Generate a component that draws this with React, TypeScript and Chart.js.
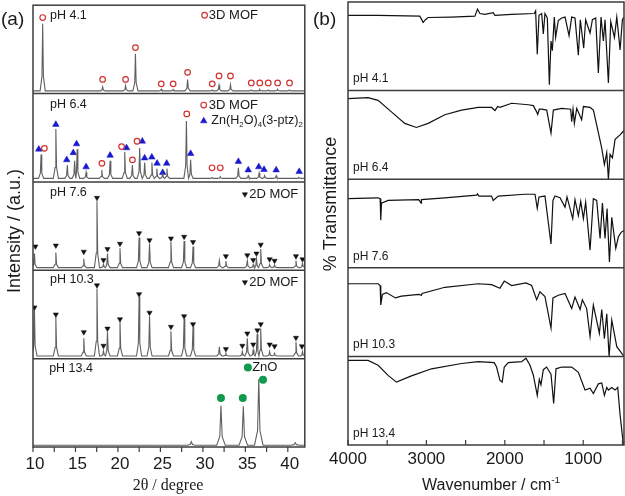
import React, { useEffect, useRef } from 'react';
import { Chart, registerables } from 'chart.js';
Chart.register(...registerables);

const SANS = '"Liberation Sans", Arial, Helvetica, sans-serif';
const SERIF = '"Liberation Serif", "Times New Roman", serif';

// ---------- data ----------
const SAMPLES = ['pH 4.1', 'pH 6.4', 'pH 7.6', 'pH 10.3', 'pH 13.4'];

// axis ticks
const XRD_TICK_LABELS = [10, 15, 20, 25, 30, 35, 40];
const XRD_TICK_MARKS = [10, 12.5, 15, 17.5, 20, 22.5, 25, 27.5, 30, 32.5, 35, 37.5, 40];
const IR_TICK_LABELS = [4000, 3000, 2000, 1000];
const IR_TICK_MARKS = [4000, 3500, 3000, 2500, 2000, 1500, 1000, 500];

// XRD peaks: [2θ (deg), height within its panel (0..1)]
const xrd41 = [[11.14, 0.79], [18.2, 0.076], [20.9, 0.09], [22.06, 0.45], [25.1, 0.05], [26.5, 0.045], [28.2, 0.16], [31.1, 0.04], [31.9, 0.095], [33.25, 0.1], [35.7, 0.04], [36.7, 0.045], [37.7, 0.04], [38.8, 0.05], [40.2, 0.04]];
const xrd64 = [[10.95, 0.31], [12.69, 0.6], [14.04, 0.19], [14.9, 0.24], [15.2, 0.37], [16.25, 0.11], [18.1, 0.135], [19.08, 0.24], [20.8, 0.34], [21.7, 0.19], [22.56, 0.385], [23.15, 0.22], [24.0, 0.22], [24.58, 0.15], [25.27, 0.09], [25.77, 0.15], [28.06, 0.69], [28.56, 0.25], [31.08, 0.05], [32.05, 0.06], [34.18, 0.16], [35.34, 0.07], [36.62, 0.1], [37.27, 0.07], [38.63, 0.07], [41.3, 0.05]];
const xrd76 = [[10.17, 0.19], [12.69, 0.2], [15.98, 0.13], [17.53, 0.78], [18.3, 0.07], [18.77, 0.19], [20.24, 0.25], [22.49, 0.37], [23.72, 0.3], [26.24, 0.32], [27.79, 0.33], [28.84, 0.27], [31.94, 0.11], [32.71, 0.105], [35.23, 0.11], [35.93, 0.065], [36.31, 0.13], [36.81, 0.24], [37.86, 0.065], [38.44, 0.06], [40.96, 0.11], [41.73, 0.08]];
const xrd103 = [[10.17, 0.55], [12.69, 0.47], [15.98, 0.23], [17.53, 0.79], [18.3, 0.09], [18.77, 0.3], [20.24, 0.43], [22.49, 0.7], [23.72, 0.48], [26.24, 0.31], [27.79, 0.45], [28.84, 0.36], [31.94, 0.135], [32.71, 0.06], [34.65, 0.08], [35.23, 0.23], [35.93, 0.1], [36.39, 0.28], [36.81, 0.34], [37.86, 0.08], [38.44, 0.06], [40.96, 0.19], [41.73, 0.08]];
const xrd134 = [[28.64, 0.06], [32.13, 0.47], [34.76, 0.46], [36.58, 0.77], [40.87, 0.05]];
const XRD_BASE = [0.03, 0.04, 0.03, 0.03, 0.02];

// phase markers [2θ, height in panel]
const mof3d41 = [[11.14, 0.86], [18.2, 0.16], [20.9, 0.16], [22.06, 0.52], [25.1, 0.11], [26.5, 0.11], [28.2, 0.24], [31.1, 0.11], [31.9, 0.2], [33.25, 0.2], [35.7, 0.12], [36.7, 0.12], [37.7, 0.12], [38.8, 0.12], [40.2, 0.12]];
const mof3d64 = [[11.34, 0.38], [18.11, 0.21], [20.43, 0.4], [21.71, 0.25], [22.25, 0.46], [28.1, 0.77], [31.08, 0.16], [32.05, 0.16]];
const znptz64 = [[10.68, 0.37], [12.69, 0.65], [13.97, 0.25], [14.74, 0.33], [15.13, 0.43], [16.25, 0.17], [19.08, 0.3], [21.01, 0.385], [22.87, 0.46], [23.14, 0.27], [23.99, 0.28], [24.61, 0.21], [25.27, 0.105], [25.74, 0.21], [28.56, 0.32], [34.18, 0.23], [35.34, 0.135], [36.58, 0.17], [37.2, 0.14], [38.63, 0.135], [41.34, 0.116]];
const mof2d76 = [[10.28, 0.27], [12.69, 0.28], [15.98, 0.21], [17.53, 0.82], [18.3, 0.115], [18.77, 0.24], [20.24, 0.3], [22.49, 0.42], [23.72, 0.34], [26.24, 0.36], [27.79, 0.38], [28.84, 0.32], [32.71, 0.16], [35.23, 0.17], [35.93, 0.115], [36.31, 0.19], [36.81, 0.29], [37.86, 0.125], [38.44, 0.108], [40.96, 0.16], [41.73, 0.125]];
const mof2d103 = [[10.17, 0.58], [12.69, 0.5], [15.98, 0.3], [17.53, 0.83], [18.3, 0.146], [18.77, 0.34], [20.24, 0.446], [22.49, 0.73], [23.72, 0.52], [26.24, 0.36], [27.79, 0.48], [28.84, 0.39], [32.71, 0.108], [34.65, 0.146], [35.23, 0.285], [35.93, 0.16], [36.42, 0.32], [36.81, 0.39], [37.86, 0.16], [38.44, 0.14], [40.96, 0.236], [41.66, 0.14]];
const zno134 = [[32.13, 0.555], [34.7, 0.555], [37.08, 0.76]];

// FTIR: [wavenumber (cm-1), transmittance within its panel (0..1)]
const ir41 = [[4000, 0.85], [3616, 0.85], [3084, 0.84], [3042, 0.77], [3012, 0.8], [2978, 0.825], [2680, 0.83], [2382, 0.84], [2348, 0.92], [2318, 0.87], [2254, 0.86], [2148, 0.88], [2126, 0.85], [1913, 0.86], [1624, 0.87], [1607, 0.9], [1586, 0.41], [1564, 0.85], [1530, 0.87], [1509, 0.64], [1488, 0.87], [1458, 0.82], [1432, 0.065], [1411, 0.56], [1394, 0.45], [1369, 0.83], [1352, 0.6], [1318, 0.79], [1275, 0.82], [1232, 0.83], [1181, 0.62], [1147, 0.83], [1105, 0.82], [1062, 0.4], [1037, 0.8], [994, 0.48], [969, 0.8], [913, 0.65], [883, 0.8], [841, 0.82], [807, 0.2], [773, 0.83], [743, 0.56], [722, 0.8], [679, 0.085], [649, 0.78], [602, 0.6], [572, 0.83], [530, 0.46], [500, 0.8], [480, 0.83]];
const ir64 = [[4000, 0.91], [3744, 0.92], [3616, 0.89], [3446, 0.76], [3276, 0.63], [3127, 0.584], [2978, 0.63], [2765, 0.727], [2552, 0.78], [2339, 0.81], [2169, 0.81], [2126, 0.775], [2092, 0.82], [2062, 0.81], [1913, 0.857], [1700, 0.84], [1637, 0.83], [1594, 0.76], [1581, 0.73], [1560, 0.79], [1530, 0.79], [1466, 0.78], [1411, 0.52], [1381, 0.78], [1275, 0.8], [1160, 0.79], [1147, 0.65], [1130, 0.79], [1113, 0.63], [1083, 0.8], [1020, 0.67], [998, 0.82], [913, 0.81], [870, 0.78], [828, 0.61], [764, 0.35], [730, 0.165], [700, 0.3], [679, 0.0], [658, 0.28], [628, 0.24], [594, 0.45], [530, 0.5], [480, 0.55]];
const ir76 = [[4000, 0.78], [3616, 0.79], [3590, 0.78], [3582, 0.536], [3573, 0.73], [3489, 0.76], [3097, 0.77], [3067, 0.73], [3063, 0.77], [2765, 0.79], [2360, 0.82], [2348, 0.835], [2330, 0.81], [2169, 0.81], [2148, 0.76], [2084, 0.81], [1743, 0.83], [1615, 0.83], [1586, 0.67], [1564, 0.8], [1488, 0.81], [1411, 0.27], [1386, 0.76], [1360, 0.81], [1296, 0.79], [1232, 0.685], [1207, 0.8], [1134, 0.555], [1105, 0.77], [1062, 0.59], [1032, 0.75], [998, 0.555], [969, 0.74], [913, 0.2], [871, 0.78], [828, 0.76], [785, 0.33], [755, 0.73], [722, 0.33], [696, 0.67], [666, 0.067], [636, 0.57], [585, 0.22], [551, 0.35], [517, 0.4], [480, 0.42]];
const ir103 = [[4000, 0.82], [3616, 0.82], [3590, 0.8], [3582, 0.58], [3561, 0.7], [3510, 0.72], [3395, 0.66], [3318, 0.68], [3097, 0.7], [3063, 0.69], [3055, 0.71], [2765, 0.78], [2339, 0.82], [2169, 0.81], [2062, 0.77], [2007, 0.85], [1913, 0.8], [1730, 0.83], [1658, 0.8], [1594, 0.64], [1552, 0.73], [1488, 0.675], [1411, 0.32], [1386, 0.66], [1318, 0.69], [1232, 0.71], [1147, 0.54], [1105, 0.67], [1040, 0.53], [1011, 0.64], [956, 0.54], [913, 0.225], [871, 0.58], [794, 0.26], [764, 0.53], [730, 0.2], [700, 0.48], [670, 0.0], [636, 0.41], [572, 0.11], [530, 0.06], [480, 0.0]];
const ir134 = [[4000, 0.955], [3744, 0.955], [3616, 0.9], [3489, 0.786], [3382, 0.71], [3191, 0.78], [2935, 0.86], [2552, 0.92], [2339, 0.94], [2135, 0.93], [2105, 0.88], [2062, 0.73], [2033, 0.71], [2007, 0.88], [1956, 0.93], [1786, 0.94], [1730, 0.98], [1679, 0.9], [1637, 0.79], [1586, 0.56], [1560, 0.74], [1539, 0.68], [1509, 0.85], [1467, 0.88], [1411, 0.8], [1377, 0.47], [1347, 0.86], [1275, 0.88], [1147, 0.88], [1062, 0.82], [977, 0.62], [913, 0.64], [871, 0.58], [807, 0.69], [764, 0.7], [730, 0.56], [700, 0.65], [679, 0.62], [636, 0.65], [594, 0.62], [560, 0.65], [530, 0.34], [487, 0.0]];

const XRD_SETS = [xrd41, xrd64, xrd76, xrd103, xrd134];
const IR_SETS = [ir41, ir64, ir76, ir103, ir134];

// ---------- helpers ----------
const off = (i: number) => 4 - i;

function xrdLine(peaks: number[][], base: number, hw: number, i: number) {
  const o = off(i);
  const pts: any[] = [{ x: 10, y: o + base }];
  peaks.forEach(([p, h], k) => {
    const prev = peaks[k - 1];
    const next = peaks[k + 1];
    const l = prev ? Math.max(p - hw, (prev[0] + p) / 2) : p - hw;
    const r = next ? Math.min(p + hw, (p + next[0]) / 2) : p + hw;
    const sh = base + (h - base) * 0.22;
    if (!prev || l > pts[pts.length - 1].x) pts.push({ x: l, y: o + base });
    pts.push({ x: p - hw * 0.28, y: o + sh });
    pts.push({ x: p, y: o + h });
    pts.push({ x: p + hw * 0.28, y: o + sh });
    pts.push({ x: r, y: o + base });
  });
  pts.push({ x: 42, y: o + base });
  return pts;
}
const toPts = (arr: number[][], i: number) => arr.map(([x, y]) => ({ x, y: off(i) + y }));

// ---------- plugins ----------
const framePlugin = {
  id: 'frames',
  afterDatasetsDraw(chart: any, _a: any, opts: any) {
    const { ctx, chartArea: a, scales } = chart;
    ctx.save();
    ctx.strokeStyle = opts.color;
    ctx.lineWidth = opts.width;
    ctx.strokeRect(a.left, a.top, a.right - a.left, a.bottom - a.top);
    for (const v of opts.dividers) {
      const y = scales.y.getPixelForValue(v);
      ctx.beginPath();
      ctx.moveTo(a.left, y);
      ctx.lineTo(a.right, y);
      ctx.stroke();
    }
    ctx.lineWidth = 1.2;
    for (const v of opts.marks) {
      const x = scales.x.getPixelForValue(v);
      ctx.beginPath();
      ctx.moveTo(x, a.bottom);
      ctx.lineTo(x, a.bottom + opts.tickDir * opts.tickLen);
      ctx.stroke();
    }
    ctx.fillStyle = '#1a1a1a';
    ctx.font = `${opts.labelSize}px ${SANS}`;
    ctx.textAlign = 'center';
    ctx.textBaseline = 'middle';
    for (const v of opts.labels) {
      const x = scales.x.getPixelForValue(v);
      ctx.fillText(String(v), x + opts.labelShift, a.bottom + opts.labelOffset);
    }
    ctx.restore();
  },
};

const textPlugin = {
  id: 'texts',
  afterDraw(chart: any, _a: any, opts: any) {
    const { ctx, scales } = chart;
    for (const it of opts.items || []) {
      let px = it.px;
      let py = it.py;
      if (it.x !== undefined) {
        px = scales.x.getPixelForValue(it.x);
        py = scales.y.getPixelForValue(it.y);
      }
      const size = it.size;
      const family = it.family || SANS;
      const parts = it.parts || [{ t: it.text }];
      ctx.save();
      ctx.translate(px, py);
      if (it.rotate) ctx.rotate(it.rotate);
      ctx.fillStyle = it.color || '#1a1a1a';
      ctx.textBaseline = 'middle';
      ctx.textAlign = 'left';
      let total = 0;
      const widths = parts.map((p: any) => {
        ctx.font = `${p.sub || p.sup ? size * 0.62 : size}px ${family}`;
        const w = ctx.measureText(p.t).width;
        total += w;
        return w;
      });
      let cx = it.align === 'center' ? -total / 2 : it.align === 'right' ? -total : 0;
      parts.forEach((p: any, k: number) => {
        ctx.font = `${p.sub || p.sup ? size * 0.62 : size}px ${family}`;
        const dy = p.sub ? size * 0.32 : p.sup ? -size * 0.38 : 0;
        ctx.fillText(p.t, cx, dy);
        cx += widths[k];
      });
      ctx.restore();
    }
  },
};

// ---------- configs ----------
const LINE_GREY = '#606060';
const FRAME = '#3c3c3c';

function baseOptions(padLeft: number, axisH: number, xScale: any, frames: any, items: any[]) {
  return {
    responsive: false,
    animation: false,
    devicePixelRatio: 1,
    layout: { padding: { left: padLeft, right: 1, top: 2, bottom: 0 } },
    plugins: {
      legend: { display: false },
      tooltip: { enabled: false },
      frames,
      texts: { items },
    },
    scales: {
      x: {
        type: 'linear',
        ...xScale,
        grid: { display: false, drawTicks: false },
        border: { display: false },
        ticks: { display: false },
        afterFit: (s: any) => { s.height = axisH; },
      },
      y: { type: 'linear', min: 0, max: 5, display: false },
    },
  };
}

function makeXrd() {
  const lines = XRD_SETS.map((pk, i) => ({
    data: xrdLine(pk, XRD_BASE[i], i === 4 ? 0.5 : 0.3, i),
    showLine: true, pointRadius: 0, borderColor: LINE_GREY, borderWidth: 1.1, tension: 0,
  }));
  const circ = { pointStyle: 'circle', pointRadius: 2.8, borderWidth: 1.2, borderColor: '#d0302c', backgroundColor: 'rgba(0,0,0,0)' };
  const tri = { pointStyle: 'triangle', pointRadius: 3.8, borderWidth: 0.5, borderColor: '#1818cc', backgroundColor: '#1818cc' };
  const dtri = { pointStyle: 'triangle', rotation: 180, pointRadius: 3, borderWidth: 0.5, borderColor: '#111', backgroundColor: '#111' };
  const grn = { pointStyle: 'circle', pointRadius: 4, borderWidth: 0, borderColor: '#0f9a50', backgroundColor: '#0f9a50' };
  const markers = [
    { ...circ, data: [...toPts(mof3d41, 0), ...toPts(mof3d64, 1), { x: 30.2, y: 4.886 }, { x: 30.1, y: 3.87 }] },
    { ...tri, data: [...toPts(znptz64, 1), { x: 30.1, y: 3.69 }] },
    { ...dtri, data: [...toPts(mof2d76, 2), ...toPts(mof2d103, 3), { x: 34.95, y: 2.86 }, { x: 34.95, y: 1.865 }] },
    { ...grn, data: [...toPts(zno134, 4), { x: 35.3, y: 0.9 }] },
  ].map((d) => ({ ...d, showLine: false }));

  const items: any[] = [
    { px: 1, py: 20, text: '(a)', size: 19 },
    { px: 15, py: 231, text: 'Intensity / (a.u.)', size: 18, rotate: -Math.PI / 2, align: 'center' },
    { px: 168, py: 486, text: '2θ / degree', size: 16, family: SERIF, align: 'center' },
    { x: 12.0, y: 4.886, text: SAMPLES[0], size: 12.5 },
    { x: 12.0, y: 3.873, text: SAMPLES[1], size: 12.5 },
    { x: 12.0, y: 2.88, text: SAMPLES[2], size: 12.5 },
    { x: 12.0, y: 1.9, text: SAMPLES[3], size: 12.5 },
    { x: 11.9, y: 0.89, text: SAMPLES[4], size: 12.5 },
    { x: 30.7, y: 4.886, text: '3D MOF', size: 13 },
    { x: 30.7, y: 3.87, text: '3D MOF', size: 13 },
    { x: 31.0, y: 3.69, size: 12.6, parts: [{ t: 'Zn(H' }, { t: '2', sub: true }, { t: 'O)' }, { t: '4', sub: true }, { t: '(3-ptz)' }, { t: '2', sub: true }] },
    { x: 35.45, y: 2.86, text: '2D MOF', size: 13 },
    { x: 35.45, y: 1.865, text: '2D MOF', size: 13 },
    { x: 35.8, y: 0.9, text: 'ZnO', size: 13 },
  ];

  return {
    type: 'scatter',
    data: { datasets: [...lines, ...markers] },
    plugins: [framePlugin, textPlugin],
    options: baseOptions(
      33, 49,
      { min: 10, max: 42 },
      { color: FRAME, width: 1.5, dividers: [1, 2, 3, 4], tickDir: 1, tickLen: 5, marks: XRD_TICK_MARKS, labels: XRD_TICK_LABELS, labelSize: 17, labelOffset: 17, labelShift: 2 },
      items,
    ),
  };
}

function makeIr() {
  const lines = IR_SETS.map((arr, i) => ({
    data: toPts(arr, i), showLine: true, pointRadius: 0, borderColor: '#111', borderWidth: 1.2, tension: 0,
  }));
  const items: any[] = [
    { px: 3, py: 20, text: '(b)', size: 19 },
    { px: 21, py: 204, text: '% Transmittance', size: 18, rotate: -Math.PI / 2, align: 'center' },
    { px: 181, py: 486, size: 16, align: 'center', parts: [{ t: 'Wavenumber / cm' }, { t: '-1', sup: true }] },
    ...SAMPLES.map((s, i) => ({ x: 3935, y: off(i) + 0.13, text: s, size: 12 })),
  ];
  return {
    type: 'scatter',
    data: { datasets: lines },
    plugins: [framePlugin, textPlugin],
    options: baseOptions(
      38, 51,
      { min: 480, max: 4000, reverse: true },
      { color: FRAME, width: 1.5, dividers: [1, 2, 3, 4], tickDir: -1, tickLen: 5, marks: IR_TICK_MARKS, labels: IR_TICK_LABELS, labelSize: 17, labelOffset: 14, labelShift: 0 },
      items,
    ),
  };
}

export default function App() {
  const refA = useRef<HTMLCanvasElement>(null);
  const refB = useRef<HTMLCanvasElement>(null);
  useEffect(() => {
    const a = new Chart(refA.current as any, makeXrd() as any);
    const b = new Chart(refB.current as any, makeIr() as any);
    return () => {
      a.destroy();
      b.destroy();
    };
  }, []);
  return (
    <div style={{ position: 'fixed', left: 0, top: 0, width: 625, height: 496, background: '#fff' }}>
      <canvas ref={refA} width={310} height={496} style={{ position: 'absolute', left: 0, top: 0, width: 310, height: 496 }} />
      <canvas ref={refB} width={315} height={496} style={{ position: 'absolute', left: 310, top: 0, width: 315, height: 496 }} />
    </div>
  );
}
